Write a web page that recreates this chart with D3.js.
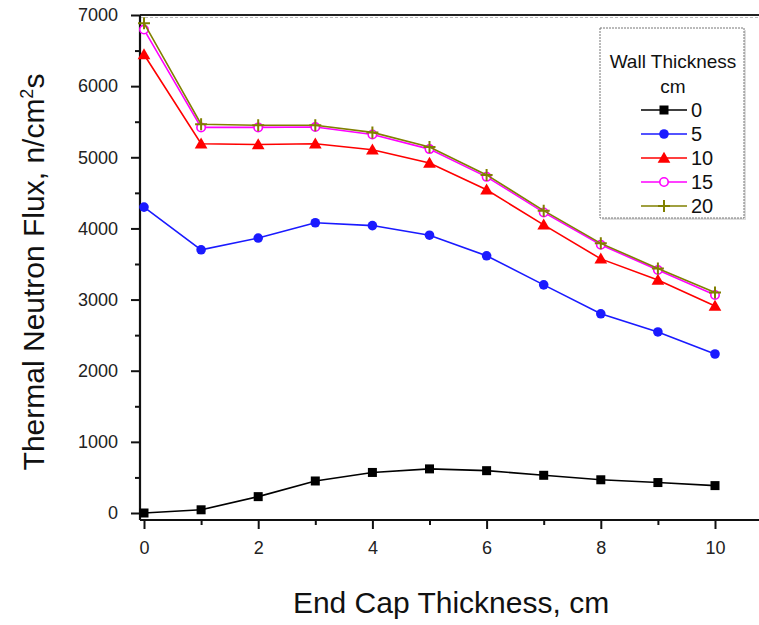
<!DOCTYPE html>
<html><head><meta charset="utf-8">
<script src="https://cdn.jsdelivr.net/npm/d3@7"></script>
<style>body{margin:0;background:#fff}svg{display:block;font-family:"Liberation Sans",Arial,sans-serif}</style>
</head><body><svg id="c" width="759" height="625"></svg>
<script>
const endCap = [0,1,2,3,4,5,6,7,8,9,10];
const wall0  = [0,45,230,450,570,620,595,530,467,428,385];
const wall5  = [4300,3700,3865,4080,4040,3905,3615,3207,2800,2545,2235];
const wall10 = [6445,5190,5180,5190,5105,4920,4543,4050,3572,3275,2910];
const wall15 = [6795,5420,5420,5425,5320,5115,4725,4225,3770,3415,3065];
const wall20 = [6885,5465,5450,5450,5350,5145,4752,4250,3790,3438,3098];
const seriesNames = ["0","5","10","15","20"];
const xTicks = [0,2,4,6,8,10];
const yTicks = [0,1000,2000,3000,4000,5000,6000,7000];

const series = [
  {name:seriesNames[0], values:wall0,  color:"#000000", shape:"square"},
  {name:seriesNames[1], values:wall5,  color:"#1a1aff", shape:"circle"},
  {name:seriesNames[2], values:wall10, color:"#ff0000", shape:"triangle"},
  {name:seriesNames[3], values:wall15, color:"#ff00ff", shape:"ocircle"},
  {name:seriesNames[4], values:wall20, color:"#808000", shape:"plus"}
];

const svg = d3.select("#c");
const x = d3.scaleLinear().domain([0,10]).range([144,715]);
const y = d3.scaleLinear().domain([0,7000]).range([513,15]);
const xLeft = 140, xRight = 762, yBottom = 520, yTop = 15;
const FF = "Liberation Sans, Arial, sans-serif";

// frame
svg.append("line").attr("x1",xLeft).attr("x2",xRight).attr("y1",yTop).attr("y2",yTop).attr("stroke","#222").attr("stroke-width",2);
svg.append("line").attr("x1",xLeft).attr("x2",xRight).attr("y1",yTop+2.5).attr("y2",yTop+2.5).attr("stroke","#bbb").attr("stroke-width",1).attr("stroke-dasharray","3,2");
svg.append("line").attr("x1",xLeft).attr("x2",xRight).attr("y1",yBottom).attr("y2",yBottom).attr("stroke","#111").attr("stroke-width",2.2);
svg.append("line").attr("x1",xLeft).attr("x2",xLeft).attr("y1",yTop).attr("y2",yBottom).attr("stroke","#111").attr("stroke-width",2.2);

// x axis
const xAxis = d3.axisBottom(x).tickValues(xTicks).tickSize(9).tickPadding(12).tickFormat(d3.format("d"));
const gx = svg.append("g").attr("transform",`translate(0,${yBottom})`).call(xAxis);
gx.select(".domain").remove();
gx.selectAll(".tick line").attr("stroke","#111").attr("stroke-width",2);
gx.selectAll(".tick text").attr("font-size",18).attr("fill","#222").attr("font-family",FF);
const gxm = svg.append("g").attr("transform",`translate(0,${yBottom})`).call(d3.axisBottom(x).tickValues([1,3,5,7,9]).tickSize(5).tickFormat(""));
gxm.select(".domain").remove();
gxm.selectAll(".tick line").attr("stroke","#111").attr("stroke-width",2);

// y axis
const yAxis = d3.axisLeft(y).tickValues(yTicks).tickSize(9).tickPadding(13).tickFormat(d3.format("d"));
const gy = svg.append("g").attr("transform",`translate(${xLeft},0)`).call(yAxis);
gy.select(".domain").remove();
gy.selectAll(".tick line").attr("stroke","#111").attr("stroke-width",2);
gy.selectAll(".tick text").attr("font-size",18).attr("fill","#222").attr("font-family",FF);
const gym = svg.append("g").attr("transform",`translate(${xLeft},0)`).call(d3.axisLeft(y).tickValues([500,1500,2500,3500,4500,5500,6500]).tickSize(5).tickFormat(""));
gym.select(".domain").remove();
gym.selectAll(".tick line").attr("stroke","#111").attr("stroke-width",2);

// axis titles
svg.append("text").attr("x",451).attr("y",613).attr("text-anchor","middle").attr("font-size",30).attr("fill","#111").text("End Cap Thickness, cm");
const yt = svg.append("text").attr("transform","translate(44,272) rotate(-90)").attr("text-anchor","middle").attr("font-size",30).attr("fill","#111");
yt.append("tspan").text("Thermal Neutron Flux, n/cm");
yt.append("tspan").attr("font-size",18).attr("dy",-11).text("2");
yt.append("tspan").attr("dy",11).text("s");

function marker(g, shape, color, cx, cy){
  if(shape==="square") g.append("rect").attr("x",cx-4.5).attr("y",cy-4.5).attr("width",9).attr("height",9).attr("fill",color);
  else if(shape==="circle") g.append("circle").attr("cx",cx).attr("cy",cy).attr("r",4.8).attr("fill",color);
  else if(shape==="triangle") g.append("path").attr("d",d3.symbol(d3.symbolTriangle,70)()).attr("transform",`translate(${cx},${cy+1})`).attr("fill",color);
  else if(shape==="ocircle") g.append("circle").attr("cx",cx).attr("cy",cy).attr("r",4.2).attr("fill","#fff").attr("stroke",color).attr("stroke-width",1.6);
  else if(shape==="plus") g.append("path").attr("d",`M${cx-6},${cy}H${cx+6}M${cx},${cy-6}V${cy+6}`).attr("stroke",color).attr("stroke-width",2);
}

const line = d3.line().x((d,i)=>x(endCap[i])).y(d=>y(d));
series.forEach(s=>{
  const g = svg.append("g");
  g.append("path").attr("d",line(s.values)).attr("fill","none").attr("stroke",s.color).attr("stroke-width",1.6);
  s.values.forEach((v,i)=>marker(g,s.shape,s.color,x(endCap[i]),y(v)));
});

// legend
const lg = svg.append("g");
lg.append("rect").attr("x",602).attr("y",30).attr("width",144).attr("height",190).attr("fill","#ddd");
lg.append("rect").attr("x",600).attr("y",28).attr("width",144).attr("height",190).attr("fill","#fff").attr("stroke","#777").attr("stroke-width",1).attr("stroke-dasharray","2,1");
lg.append("text").attr("x",673).attr("y",68).attr("text-anchor","middle").attr("font-size",19).attr("fill","#111").text("Wall Thickness");
lg.append("text").attr("x",673).attr("y",93).attr("text-anchor","middle").attr("font-size",19).attr("fill","#111").text("cm");
series.forEach((s,i)=>{
  const cy = 110 + i*24;
  lg.append("line").attr("x1",641).attr("x2",687).attr("y1",cy).attr("y2",cy).attr("stroke",s.color).attr("stroke-width",1.6);
  marker(lg,s.shape,s.color,664,cy);
  lg.append("text").attr("x",691).attr("y",cy+7).attr("font-size",20).attr("fill","#111").text(s.name);
});
</script></body></html>
